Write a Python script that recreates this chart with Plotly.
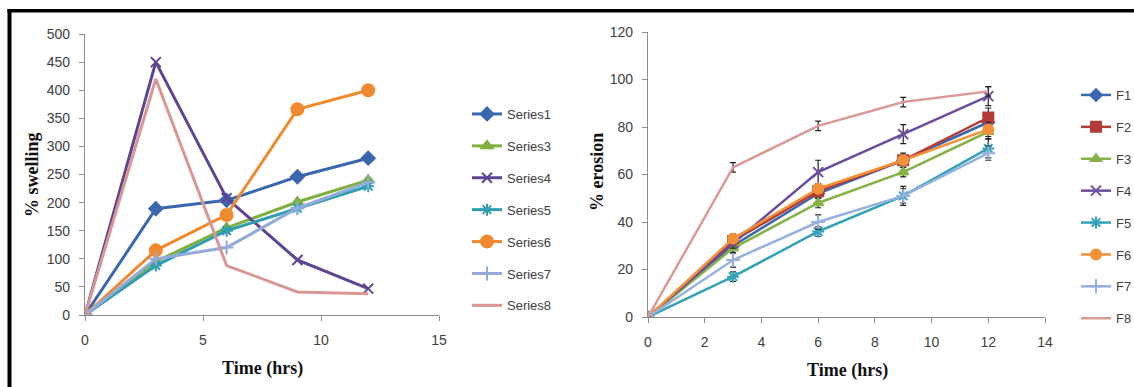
import plotly.graph_objects as go

W, H = 1134, 387

# ---- swelling data (left panel) ----
time_sw = [0, 3, 6, 9, 12]
series1 = [0, 189, 204, 246, 279]
series3 = [0, 95, 155, 201, 240]
series4 = [0, 450, 208, 98, 47]
series5 = [0, 88, 150, 190, 229]
series6 = [0, 115, 178, 366, 400]
series7 = [0, 100, 120, 190, 236]
series8 = [0, 420, 88, 41, 38]

# ---- erosion data (right panel) ----
time_er = [0, 3, 6, 9, 12]
f1 = [0, 30, 52, 66, 82]
f2 = [0, 32, 53, 66, 84]
f3 = [0, 29, 48, 61, 78]
f4 = [0, 31, 61, 77, 93]
f5 = [0, 17, 36, 51, 71]
f6 = [0, 33, 54, 66, 79]
f7 = [0, 24, 40, 51, 69]
f8 = [0, 63, 80.5, 90.5, 95]
f1_err = [0, 2, 2, 2, 3]
f2_err = [0, 2, 3, 3, 4]
f3_err = [0, 2, 2, 2, 3]
f4_err = [0, 2, 5, 4, 4]
f5_err = [0, 2, 2, 4, 4]
f6_err = [0, 2, 2, 2, 3]
f7_err = [0, 3, 3, 3, 3]
f8_err = [0, 2, 2, 2, 2]


def px_x(p):
    return p / W


def px_y(p):
    return 1 - p / H


fig = go.Figure()

left_specs = [
    ("Series1", series1, "#3A68AE", "diamond", 10),
    ("Series3", series3, "#7FAF3F", "triangle-up", 10),
    ("Series4", series4, "#5E4593", "x-thin-open", 10),
    ("Series5", series5, "#2F9DB2", "asterisk-open", 10),
    ("Series6", series6, "#F08A2E", "circle", 12),
    ("Series7", series7, "#93ABD9", "cross-thin-open", 10),
    ("Series8", series8, "#D99694", None, 0),
]
for name, vals, col, sym, size in left_specs:
    marker = dict(color=col, size=size, line=dict(color=col, width=2))
    if sym:
        marker["symbol"] = sym
    fig.add_trace(go.Scatter(
        x=time_sw, y=vals, name=name, mode="lines+markers" if sym else "lines",
        line=dict(color=col, width=3), marker=marker,
        xaxis="x", yaxis="y", legend="legend", legendgroup=name,
    ))

right_specs = [
    ("F1", f1, f1_err, "#3A68AE", "diamond", 9),
    ("F2", f2, f2_err, "#B23A37", "square", 10),
    ("F3", f3, f3_err, "#86B249", "triangle-up", 9),
    ("F4", f4, f4_err, "#6D4E9C", "x-thin-open", 10),
    ("F5", f5, f5_err, "#35A2B8", "asterisk-open", 10),
    ("F6", f6, f6_err, "#F39139", "circle", 10),
    ("F7", f7, f7_err, "#96B1DD", "cross-thin-open", 10),
    ("F8", f8, f8_err, "#DA9A98", None, 0),
]
for name, vals, err, col, sym, size in right_specs:
    marker = dict(color=col, size=size, line=dict(color=col, width=2))
    if sym:
        marker["symbol"] = sym
    fig.add_trace(go.Scatter(
        x=time_er, y=vals, name=name, mode="lines+markers" if sym else "lines",
        line=dict(color=col, width=2.5), marker=marker,
        error_y=dict(type="data", array=err, visible=True, color="#222222",
                     thickness=1.2, width=3),
        xaxis="x2", yaxis="y2", legend="legend2", legendgroup=name,
    ))

tick_font = dict(family="Liberation Sans, Arial, sans-serif", size=14, color="#404040")
axis_common = dict(
    showgrid=False, zeroline=False, showline=True, linecolor="#8C8C8C", linewidth=1.2,
    ticks="outside", ticklen=5, tickcolor="#8C8C8C", tickfont=tick_font,
)
legend_font = dict(family="Liberation Sans, Arial, sans-serif", size=13, color="#404040")

fig.update_layout(
    width=W, height=H,
    margin=dict(l=0, r=0, t=0, b=0, autoexpand=False),
    paper_bgcolor="white", plot_bgcolor="white",
    xaxis=dict(domain=[px_x(85), px_x(439)], range=[0, 15], tickvals=[0, 5, 10, 15],
               anchor="y", ticklabelstandoff=7, **axis_common),
    yaxis=dict(domain=[px_y(315), px_y(34)], range=[0, 500], dtick=50,
               anchor="x", ticklabelstandoff=6, **axis_common),
    xaxis2=dict(domain=[px_x(648), px_x(1045)], range=[0, 14], dtick=2,
                anchor="y2", ticklabelstandoff=7, **axis_common),
    yaxis2=dict(domain=[px_y(317), px_y(32)], range=[0, 120], dtick=20,
                anchor="x2", ticklabelstandoff=6, **axis_common),
    legend=dict(x=px_x(467), y=px_y(99), xanchor="left", yanchor="top", font=legend_font,
                tracegroupgap=12, itemwidth=30, bgcolor="rgba(0,0,0,0)", traceorder="grouped"),
    legend2=dict(x=px_x(1076), y=px_y(80), xanchor="left", yanchor="top", font=legend_font,
                 tracegroupgap=12, itemwidth=30, bgcolor="rgba(0,0,0,0)", traceorder="grouped"),
    showlegend=True,
)

title_font = dict(family="Liberation Serif, Times New Roman, serif", size=18, color="#111111")
for txt, x, y, ang in [
    ("<b>Time (hrs)</b>", 262, 368, 0),
    ("<b>% swelling</b>", 32, 175, -90),
    ("<b>Time (hrs)</b>", 847, 370, 0),
    ("<b>% erosion</b>", 597, 172, -90),
]:
    fig.add_annotation(text=txt, x=px_x(x), y=px_y(y), xref="paper", yref="paper",
                       showarrow=False, textangle=ang, font=title_font,
                       xanchor="center", yanchor="middle")

# black frame on top and left edges
fig.add_shape(type="rect", xref="paper", yref="paper", x0=px_x(7.5), x1=1,
              y0=px_y(12.5), y1=px_y(9), fillcolor="black", line_width=0, layer="above")
fig.add_shape(type="rect", xref="paper", yref="paper", x0=px_x(7.5), x1=px_x(11.5),
              y0=0, y1=px_y(9), fillcolor="black", line_width=0, layer="above")

fig.write_html("out.html")
